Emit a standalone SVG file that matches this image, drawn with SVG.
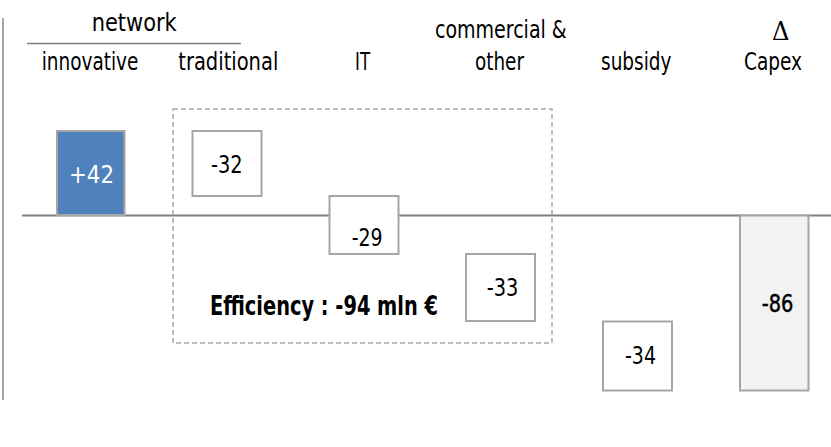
<svg xmlns="http://www.w3.org/2000/svg" width="831" height="447" viewBox="0 0 831 447">
<style>
text{font-family:"Liberation Sans Narrow","DejaVu Sans Condensed",sans-serif;font-size:24px;fill:#000}
.num{font-size:25px}
.box{fill:#fff;stroke:#a6a6a6;stroke-width:2}
</style>
<rect width="831" height="447" fill="#fff"/>
<g id="axes">
<line x1="3" y1="18" x2="3" y2="400" stroke="#a6a6a6" stroke-width="2"/>
<line x1="22" y1="215.5" x2="831" y2="215.5" stroke="#808080" stroke-width="2"/>
<line x1="27" y1="43.5" x2="241" y2="43.5" stroke="#808080" stroke-width="1.5"/>
</g>
<g id="headers">
<text x="91.7" y="31" textLength="85" lengthAdjust="spacingAndGlyphs">network</text>
<text x="41.7" y="70" textLength="96.7" lengthAdjust="spacingAndGlyphs">innovative</text>
<text x="178.3" y="70" textLength="100" lengthAdjust="spacingAndGlyphs">traditional</text>
<text x="355" y="70" textLength="15" lengthAdjust="spacingAndGlyphs">IT</text>
<text x="435" y="38" textLength="131.7" lengthAdjust="spacingAndGlyphs">commercial &amp;</text>
<text x="475" y="70" textLength="49" lengthAdjust="spacingAndGlyphs">other</text>
<text x="601" y="70" textLength="70.5" lengthAdjust="spacingAndGlyphs">subsidy</text>
<text x="772" y="39.5" style="font-family:'DejaVu Serif',serif;font-size:26px" textLength="17.5" lengthAdjust="spacingAndGlyphs">Δ</text>
<text x="744" y="70" textLength="58" lengthAdjust="spacingAndGlyphs">Capex</text>
</g>
<g id="efficiency">
<rect x="173" y="109" width="379" height="234" fill="none" stroke="#a6a6a6" stroke-width="1.5" stroke-dasharray="5,3"/>
<text transform="scale(0.8,1)" x="262.5" y="315" style="font-weight:bold;font-size:26px" textLength="285" lengthAdjust="spacingAndGlyphs">Efficiency : -94 mln €</text>
</g>
<g id="innovative">
<rect x="57" y="131" width="67.5" height="84" fill="#4f81bd" stroke="#a6a6a6" stroke-width="2"/>
<text class="num" x="69" y="183" style="fill:#fff" textLength="45" lengthAdjust="spacingAndGlyphs">+42</text>
</g>
<g id="traditional">
<rect class="box" x="192.5" y="131" width="69" height="65"/>
<text class="num" x="211" y="173" textLength="31.7" lengthAdjust="spacingAndGlyphs">-32</text>
</g>
<g id="it">
<rect class="box" x="329.5" y="196" width="69" height="58"/>
<text class="num" x="351.7" y="246" textLength="31" lengthAdjust="spacingAndGlyphs">-29</text>
</g>
<g id="commercial">
<rect class="box" x="466" y="254" width="69" height="67"/>
<text class="num" x="486.7" y="296" textLength="31.6" lengthAdjust="spacingAndGlyphs">-33</text>
</g>
<g id="subsidy">
<rect class="box" x="603" y="321.5" width="69" height="69"/>
<text class="num" x="625" y="363.5" textLength="31" lengthAdjust="spacingAndGlyphs">-34</text>
</g>
<g id="capex">
<rect x="740" y="215.5" width="68.5" height="175" fill="#f2f2f2" stroke="#a6a6a6" stroke-width="2"/>
<text class="num" x="761.7" y="312" style="stroke:#000;stroke-width:0.5" textLength="31.6" lengthAdjust="spacingAndGlyphs">-86</text>
</g>
</svg>
